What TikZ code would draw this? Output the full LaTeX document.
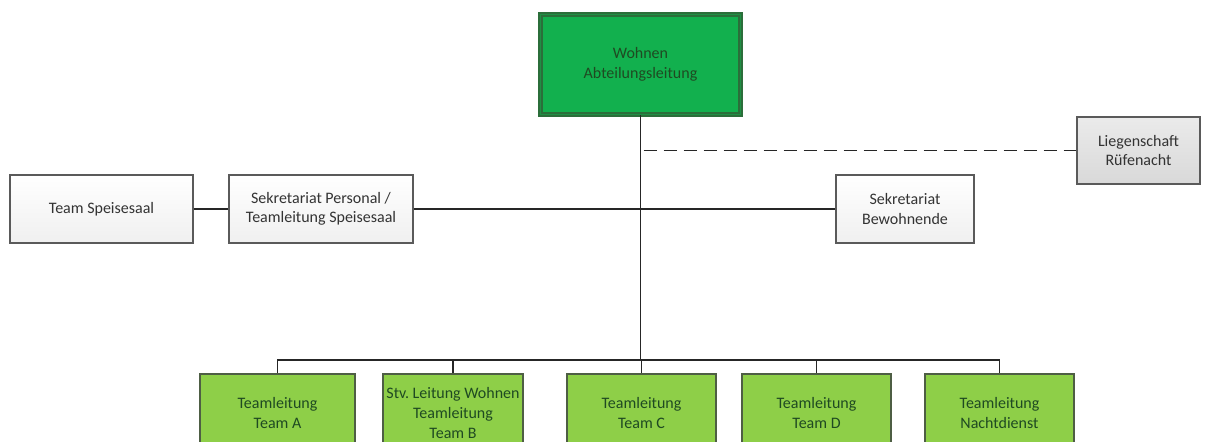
\documentclass[tikz,border=0pt]{standalone}
\usepackage{fontspec}
\setmainfont{Carlito}
\usepackage{xcolor}
\usepackage{tikz}
\usetikzlibrary{positioning,calc}
\definecolor{headgreen}{HTML}{12B04E}
\definecolor{headborder}{HTML}{2B6E3A}
\definecolor{teamgreen}{HTML}{8ECF48}
\definecolor{teamborder}{HTML}{4E5E44}
\definecolor{textgreen}{HTML}{1F4A22}
\definecolor{boxborder}{HTML}{5A5A5A}
\definecolor{textgray}{HTML}{333333}
\tikzset{
  orgtext/.style={align=center,font=\fontsize{8}{9.8}\selectfont,inner sep=0pt},
  headbox/.style={orgtext,draw=headborder,line width=0.9pt,double=headborder!50!headgreen,double distance=0.7pt,fill=headgreen,text=textgreen,minimum width=100pt,minimum height=50pt},
  staffbox/.style={orgtext,draw=boxborder,line width=0.6pt,top color=white,bottom color=gray!12,text=textgray,minimum height=34pt},
  extbox/.style={orgtext,draw=boxborder,line width=0.6pt,top color=gray!16,bottom color=gray!30,text=textgray,minimum height=33.5pt},
  teambox/.style={orgtext,draw=teamborder,line width=0.6pt,fill=teamgreen,text=textgreen,minimum height=39pt},
  orgline/.style={line width=0.7pt,black!85},
  extline/.style={orgline,dash pattern=on 6.5pt off 3.5pt}
}
\begin{document}
\begin{tikzpicture}[x=0.5pt,y=0.5pt]
\useasboundingbox (0,0) rectangle (1215,442);
\node[headbox] (head) at (640.5,377.5) {Wohnen\\Abteilungsleitung};
\node[staffbox,minimum width=91.5pt] (speise) at (101.5,233) {Team Speisesaal};
\node[staffbox,minimum width=92pt] (sekpers) at (321,233) {Sekretariat Personal /\\Teamleitung Speisesaal};
\node[staffbox,minimum width=69pt] (sekbew) at (905,233) {Sekretariat\\Bewohnende};
\node[extbox,minimum width=61.5pt] (lieg) at (1138.5,291.5) {Liegenschaft\\Rüfenacht};
\node[teambox,minimum width=77.5pt] (teama) at (277.5,29) {Teamleitung\\Team A};
\node[teambox,minimum width=70pt] (teamb) at (453,29) {Stv.\ Leitung Wohnen\\Teamleitung\\Team B};
\node[teambox,minimum width=74.5pt] (teamc) at (641.5,29) {Teamleitung\\Team C};
\node[teambox,minimum width=74.5pt] (teamd) at (816.5,29) {Teamleitung\\Team D};
\node[teambox,minimum width=74.5pt] (teamn) at (999.5,29) {Teamleitung\\Nachtdienst};
\coordinate (bus) at (641.5,82);
\draw[orgline] (head.south) -- (head.south |- bus);
\draw[orgline] (teama.north) |- (teamn.north |- bus) -- (teamn.north);
\foreach \t in {teamb,teamc,teamd}{
  \draw[orgline] (\t.north) -- (\t.north |- bus);
}
\draw[orgline] (speise) -- (sekpers);
\draw[orgline] (sekpers) -- (sekbew);
\draw[extline] ($(head.south |- lieg.west)+(3,0)$) -- (lieg.west);
\end{tikzpicture}
\end{document}
